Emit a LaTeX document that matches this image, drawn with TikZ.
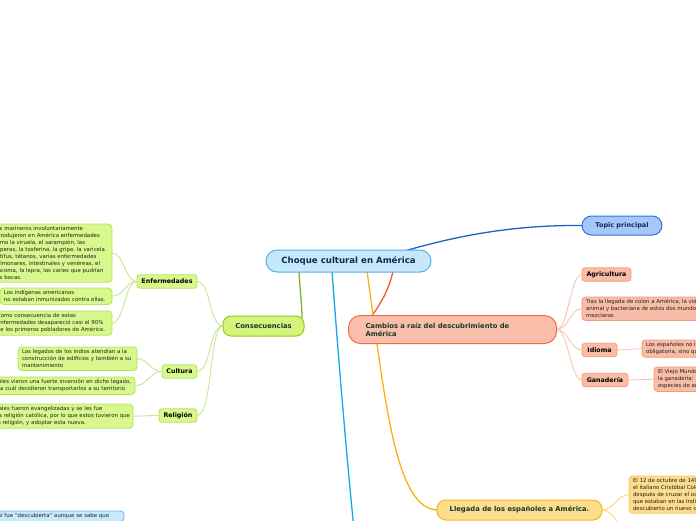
\documentclass[tikz,border=0pt]{standalone}
\usepackage{fontspec}
\setmainfont{DejaVu Sans}
\usetikzlibrary{calc}
\pgfdeclarelayer{bg}
\pgfsetlayers{bg,main}
\definecolor{cenF}{HTML}{C5E8FB}\definecolor{cenB}{HTML}{5AAEE8}\definecolor{cenT}{HTML}{0F2B4F}
\definecolor{topF}{HTML}{A5C8F8}\definecolor{topB}{HTML}{2E72DD}\definecolor{topL}{HTML}{1B62C6}
\definecolor{conF}{HTML}{D4F47C}\definecolor{conB}{HTML}{9ACB1A}\definecolor{conL}{HTML}{7DB61C}
\definecolor{lvT}{HTML}{173A2C}
\definecolor{grnF}{HTML}{D8F78D}\definecolor{grnB}{HTML}{B4E35A}\definecolor{grnL}{HTML}{C7E795}
\definecolor{camF}{HTML}{F9BFAB}\definecolor{camB}{HTML}{EF6E4C}\definecolor{camL}{HTML}{F15A29}
\definecolor{salF}{HTML}{F9BCA7}\definecolor{salB}{HTML}{F7997B}\definecolor{salL}{HTML}{FBC5B1}
\definecolor{lleF}{HTML}{FDDC8D}\definecolor{lleB}{HTML}{F5B818}\definecolor{lleL}{HTML}{F7B30E}
\definecolor{yelF}{HTML}{FDDB8C}\definecolor{yelB}{HTML}{FACC63}\definecolor{yelL}{HTML}{FBD580}
\definecolor{cyaL}{HTML}{19A7E9}
\definecolor{bluF}{HTML}{C6E9FB}\definecolor{bluB}{HTML}{62BDEE}
\definecolor{leafT}{HTML}{222222}
\begin{document}
\begin{tikzpicture}[x=1pt,y=-1pt,
  every node/.style={inner sep=0pt,outer sep=0pt},
  centre/.style={draw=cenB,fill=cenF,line width=1pt,rounded corners=11pt,minimum width=165pt,minimum height=22pt,text=cenT,font=\bfseries\fontsize{8.6}{10}\selectfont},
  lvone/.style={line width=1pt,text=lvT,font=\bfseries\fontsize{6.8}{8}\selectfont},
  lvtwo/.style={line width=0.8pt,rounded corners=3pt,minimum height=13.5pt,text=black,font=\bfseries\fontsize{6.3}{7}\selectfont},
  leaf/.style={line width=0.8pt,rounded corners=3.5pt,inner xsep=4pt,inner ysep=2.5pt,align=left,text=leafT,font=\fontsize{5.4}{7}\selectfont},
  greenleaf/.style={leaf,draw=grnB,fill=grnF},
  salleaf/.style={leaf,draw=salB,fill=salF},
  yelleaf/.style={leaf,draw=yelB,fill=yelF},
  blueleaf/.style={leaf,draw=bluB,fill=bluF},
  mainline/.style={line width=1.3pt},
  subline/.style={line width=0.9pt}]
\useasboundingbox (0,0) rectangle (696,520);
\clip (0,0) rectangle (696,520);

% central
\node[centre] (cen) at (348.5,261) {Choque cultural en América};
\node[lvone,draw=topB,fill=topF,rounded corners=9.5pt,minimum width=80pt,minimum height=19pt,font=\bfseries\fontsize{6.5}{7}\selectfont,text=cenT] (top) at (622,225.5) {Topic principal};

% Consecuencias branch
\node[lvone,draw=conB,fill=conF,rounded corners=8pt,minimum width=81pt,minimum height=20pt] (cons) at (263.5,326) {Consecuencias};
\node[lvtwo,draw=grnB,fill=grnF,minimum width=60pt] (enf) at (167,281.5) {Enfermedades};
\node[lvtwo,draw=grnB,fill=grnF,minimum width=35pt] (cul) at (179.5,371.5) {Cultura};
\node[lvtwo,draw=grnB,fill=grnF,minimum width=38pt] (rel) at (178,415.5) {Religión};

\node[greenleaf,anchor=north east,text width=114.5pt] (e1) at (112,224) {\mbox{Los marineros involuntariamente}\\\mbox{introdujeron en América enfermedades}\\\mbox{como la viruela, el sarampión, las}\\\mbox{paperas, la tosferina, la gripe, la varicela}\\\mbox{el tifus, tétanos, varias enfermedades}\\\mbox{pulmonares, intestinales y venéreas, el}\\\mbox{tracoma, la lepra, las caries que pudrían}\\\mbox{sus bocas.}};
\node[greenleaf,anchor=north east,text width=104pt] (e2) at (112,288) {\mbox{Los indígenas americanos}\\\mbox{no estaban inmunizados contra ellas.}};
\node[greenleaf,anchor=north east,text width=111pt] (e3) at (112,311) {\mbox{Como consecuencia de estas}\\\mbox{enfermedades desapareció casi el 90\%}\\\mbox{de los primeros pobladores de América.}};
\node[greenleaf,anchor=north east,text width=111pt] (c1) at (137,347) {\mbox{Los legados de los indios atendían a la}\\\mbox{construcción de edificios y también a su}\\\mbox{mantenimiento}};
\node[greenleaf,anchor=north east,text width=160pt] (c2) at (135,377) {\mbox{Los españoles vieron una fuerte inversión en dicho legado,}\\\mbox{razón por la cuál decidieron transportarlos a su territorio}};
\node[greenleaf,anchor=north east,text width=180pt] (r1) at (133,404) {\mbox{Las culturas originales fueron evangelizadas y se les fue}\\\mbox{obligatoriamente la religión católica, por lo que estos tuvieron que}\\\mbox{abandonar su vieja religión, y adoptar esta nueva.}};

% bottom-left blue box
\node[blueleaf,anchor=north east,text width=149pt] (b1) at (124,511) {\mbox{América así fue "descubierta" aunque se sabe que}};

% Cambios branch
\node[lvone,draw=camB,fill=camF,rounded corners=12pt,minimum width=208pt,minimum height=28pt,text width=174pt,inner xsep=17pt,align=left] (cam) at (452.5,329.5) {Cambios a raíz del descubrimiento de\\América};
\node[lvtwo,draw=salB,fill=salF,minimum width=49pt] (agr) at (606.5,274.5) {Agricultura};
\node[lvtwo,draw=salB,fill=salF,minimum width=35pt] (idi) at (599.5,350) {Idioma};
\node[lvtwo,draw=salB,fill=salF,minimum width=46pt] (gan) at (605,380) {Ganadería};
\node[salleaf,anchor=north west] (t1) at (582,297) {Tras la llegada de colon a América, la vida vegetal,\\animal y bacteriana de estos dos mundos comenzó a\\mezclarse.};
\node[salleaf,anchor=north west] (t2) at (642,340) {Los españoles no impusieron su idioma de forma\\obligatoria, sino que se adoptó con el tiempo.};
\node[salleaf,anchor=north west] (t3) at (654,367) {El Viejo Mundo aportó a América\\la ganadería: vacas, cerdos, caballos y otras\\especies de animales.};

% Llegada branch
\node[lvone,draw=lleB,fill=lleF,rounded corners=9pt,minimum width=165pt,minimum height=20pt] (lle) at (519.5,510) {Llegada de los españoles a América.};
\node[yelleaf,anchor=north west] (l1) at (629,476) {El 12 de octubre de 1492,\\el italiano Cristóbal Colón llegó a tierras\\después de cruzar el océano Atlántico, creyendo\\que estaban en las Indias, pero habían\\descubierto un nuevo continente.};

\coordinate (cyaEnd) at (355,540);
\coordinate (lleEnd) at (628,540);

\begin{pgfonlayer}{bg}
  \draw[mainline,topL] ($(cen.north)+(56,1)$) .. controls (470,232) and (525,225) .. (top.west);
  \draw[mainline,conL] ($(cen.south)+(-49.5,-1)$) .. controls (300,290) and (302,305) .. ($(cons.north east)+(-2,2)$);
  \draw[mainline,camL] ($(cen.south)+(44.5,-1)$) .. controls (389,290) and (380,305) .. ($(cam.north west)+(22,2)$);
  \draw[mainline,lleL] ($(cen.south)+(18.5,-1)$) .. controls (385,400) and (395,508) .. (lle.west);
  \draw[mainline,cyaL] ($(cen.south)+(-16.5,-1)$) .. controls (340,380) and (348,470) .. (cyaEnd);

  \draw[subline,grnL] (cons.west) .. controls +(-14,0) and +(14,0) .. (enf.east);
  \draw[subline,grnL] (cons.west) .. controls +(-14,0) and +(14,0) .. (cul.east);
  \draw[subline,grnL] (cons.west) .. controls +(-14,0) and +(16,0) .. (rel.east);
  \draw[subline,grnL] (enf.west) .. controls +(-12,0) and +(12,0) .. (e1.east);
  \draw[subline,grnL] (enf.west) .. controls +(-12,0) and +(12,0) .. (e2.east);
  \draw[subline,grnL] (enf.west) .. controls +(-12,0) and +(12,0) .. (e3.east);
  \draw[subline,grnL] (cul.west) .. controls +(-12,0) and +(12,0) .. (c1.east);
  \draw[subline,grnL] (cul.west) .. controls +(-12,0) and +(12,0) .. (c2.east);
  \draw[subline,grnL] (rel.west) .. controls +(-12,0) and +(12,0) .. (r1.east);

  \draw[subline,salL] (cam.east) .. controls +(12,0) and +(-12,0) .. (agr.west);
  \draw[subline,salL] (cam.east) .. controls +(12,0) and +(-12,0) .. (t1.west);
  \draw[subline,salL] (cam.east) .. controls +(12,0) and +(-12,0) .. (idi.west);
  \draw[subline,salL] (cam.east) .. controls +(12,0) and +(-12,0) .. (gan.west);
  \draw[subline,salL] (idi.east) -- (t2.west);
  \draw[subline,salL] (gan.east) -- (t3.west);

  \draw[subline,yelL] (lle.east) .. controls +(12,0) and +(-12,0) .. (l1.west);
  \draw[subline,yelL] (lle.east) .. controls +(12,0) and +(-6,-10) .. (lleEnd);
\end{pgfonlayer}
\end{tikzpicture}
\end{document}
